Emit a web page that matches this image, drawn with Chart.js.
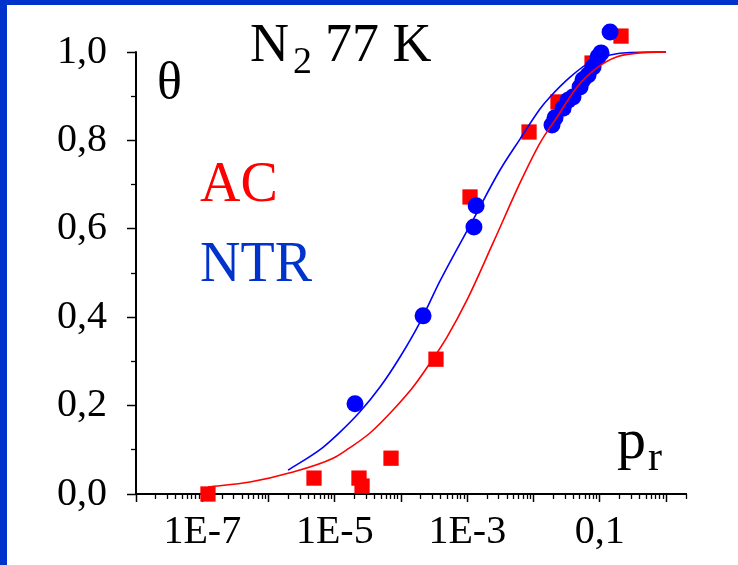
<!DOCTYPE html>
<html>
<head>
<meta charset="utf-8">
<script src="https://cdn.jsdelivr.net/npm/chart.js@4"></script>
<style>
  body { margin: 0; background: #fff; }
  #box { position: relative; width: 738px; height: 565px; }
  #box .edge { position: absolute; background: #0033cc; z-index: 2; }
</style>
</head>
<body>
<div id="box">
  <div class="edge" style="left:0;top:0;width:7px;height:565px"></div>
  <div class="edge" style="left:0;top:0;width:738px;height:5px"></div>
  <canvas id="iso" width="738" height="565"></canvas>
</div>
<script>
// N2 at 77 K : relative pressure vs coverage
// AC (red squares)
const acP = [1.22e-7, 4.86e-6, 2.32e-5, 2.58e-5, 7.06e-5, 3.37e-4, 1.10e-3, 8.55e-3, 0.0234, 0.0764, 0.209]
const acTheta = [0.0, 0.036, 0.036, 0.018, 0.081, 0.305, 0.672, 0.819, 0.887, 0.975, 1.036]
// NTR (blue circles)
const ntrP = [2.02e-5, 2.15e-4, 1.26e-3, 1.36e-3, 0.0190, 0.0211, 0.0279, 0.0332, 0.0394, 0.0504, 0.0558, 0.0665, 0.0791, 0.0942, 0.1045, 0.143]
const ntrTheta = [0.204, 0.403, 0.604, 0.652, 0.835, 0.851, 0.873, 0.891, 0.898, 0.921, 0.937, 0.948, 0.966, 0.989, 0.998, 1.045]
// fitted isotherms
const acFitP = [1.22e-7, 5.26e-7, 2.11e-6, 9.42e-6, 1.585e-5, 3.40e-5, 7.57e-5, 1.52e-4, 2.74e-4, 4.94e-4, 9.91e-4, 2.45e-3, 6.25e-3, 0.0125, 0.0227, 0.0454, 0.0908, 0.182, 0.406, 1]
const acFitTheta = [0.016, 0.027, 0.048, 0.081, 0.102, 0.138, 0.190, 0.242, 0.296, 0.355, 0.439, 0.568, 0.704, 0.794, 0.853, 0.921, 0.964, 0.989, 0.998, 1.0]
const ntrFitP = [1.97e-6, 6.43e-6, 1.20e-5, 2.40e-5, 4.82e-5, 9.66e-5, 1.94e-4, 3.88e-4, 1.22e-3, 3.12e-3, 6.25e-3, 0.0125, 0.0177, 0.0356, 0.0713, 0.143, 0.286, 1]
const ntrFitTheta = [0.054, 0.104, 0.140, 0.186, 0.242, 0.310, 0.389, 0.482, 0.620, 0.733, 0.803, 0.871, 0.898, 0.943, 0.977, 0.993, 0.999, 1.0]

// axes
const xMin = 1e-8, xMax = 2
const xMajor = [1e-8, 1e-7, 1e-6, 1e-5, 1e-4, 1e-3, 1e-2, 1e-1, 1]
const xLabels = ['', '1E-7', '', '1E-5', '', '1E-3', '', '0,1', '']
const yMajor = [0, 0.2, 0.4, 0.6, 0.8, 1.0]
const yLabels = ['0,0', '0,2', '0,4', '0,6', '0,8', '1,0']
const yMinor = [0.1, 0.3, 0.5, 0.7, 0.9]
// a bit of room above 1,0 so the top points are not cut off
const yTop = 1.06

const serif = '"Liberation Serif", "DejaVu Serif", serif'
const plotH = 442   // px from 0,0 to 1,0

function pts(xs, ys) {
  return xs.map((x, i) => ({x: x, y: ys[i]}))
}

// 2..9 in every decade, plus 2 at the end of the axis
const xMinor = []
xMajor.forEach(d => {
  for (let k = 2; k <= 9; k++) {
    if (d * k <= xMax) xMinor.push(d * k)
  }
})

// y axis line only from 0,0 to 1,0
const yAxisLine = {
  id: 'yAxisLine',
  beforeDatasetsDraw(chart) {
    const {x, y} = chart.scales
    const c = chart.ctx
    const px = Math.round(x.getPixelForValue(xMin))
    c.save()
    c.strokeStyle = '#000'
    c.lineWidth = 2
    c.beginPath()
    c.moveTo(px, y.getPixelForValue(0) + 1)
    c.lineTo(px, y.getPixelForValue(1) - 0.75)
    c.stroke()
    c.restore()
  }
}

const textPlugin = {
  id: 'texts',
  afterDraw(chart) {
    const c = chart.ctx
    c.save()
    c.textBaseline = 'alphabetic'
    c.textAlign = 'left'
    c.fillStyle = '#000'
    c.font = '54px ' + serif
    c.fillText('N', 250, 61)
    c.font = '38px ' + serif
    c.fillText('2', 293, 73)
    c.font = '54px ' + serif
    c.fillText('77 K', 325, 61)
    c.font = '52px ' + serif
    c.fillText('θ', 157, 98)
    c.font = '58px ' + serif
    c.fillText('p', 617, 458)
    c.font = '42px ' + serif
    c.fillText('r', 648, 470)
    c.font = '56px ' + serif
    c.fillStyle = '#ff0000'
    c.fillText('AC', 200, 201)
    c.fillStyle = '#0033cc'
    c.fillText('NTR', 200, 281)
    c.restore()
  }
}

const ctx = document.getElementById('iso')
const isoChart = new Chart(ctx, {
  type: 'scatter',
  data: {
    datasets: [
      {
        label: 'AC fit',
        data: pts(acFitP, acFitTheta),
        showLine: true,
        borderColor: '#ff0000',
        borderWidth: 1.6,
        pointRadius: 0,
        cubicInterpolationMode: 'monotone',
        clip: false
      },
      {
        label: 'NTR fit',
        data: pts(ntrFitP, ntrFitTheta),
        showLine: true,
        borderColor: '#0000ff',
        borderWidth: 1.6,
        pointRadius: 0,
        cubicInterpolationMode: 'monotone',
        clip: false
      },
      {
        label: 'NTR',
        data: pts(ntrP, ntrTheta),
        pointStyle: 'circle',
        pointRadius: 8.5,
        backgroundColor: '#0000ff',
        borderWidth: 0,
        clip: false
      },
      {
        label: 'AC',
        data: pts(acP, acTheta),
        pointStyle: 'rect',
        pointRadius: 10.8,
        backgroundColor: '#ff0000',
        borderWidth: 0,
        clip: false
      }
    ]
  },
  options: {
    responsive: false,
    animation: false,
    layout: {
      padding: {left: 0, top: 52 - plotH * (yTop - 1), right: 52, bottom: 0}
    },
    plugins: {
      legend: {display: false},
      tooltip: {enabled: false}
    },
    scales: {
      x: {
        type: 'logarithmic',
        position: 'bottom',
        min: xMin,
        max: xMax,
        afterBuildTicks: s => { s.ticks = xMajor.map(v => ({value: v})) },
        afterFit: s => { s.height = 71 },
        ticks: {
          autoSkip: false,
          maxRotation: 0,
          padding: 6,
          color: '#000',
          font: {family: serif, size: 40},
          callback: (v, i) => xLabels[i]
        },
        grid: {drawOnChartArea: false, tickLength: 8, tickWidth: 1.5, tickColor: '#000'},
        border: {color: '#000', width: 2}
      },
      xm: {
        type: 'logarithmic',
        position: {y: 0},
        min: xMin,
        max: xMax,
        afterBuildTicks: s => { s.ticks = xMinor.map(v => ({value: v})) },
        ticks: {display: false},
        grid: {drawOnChartArea: false, tickLength: 5, tickWidth: 1.3, tickColor: '#000'},
        border: {display: false}
      },
      y: {
        type: 'linear',
        position: 'left',
        min: 0,
        max: yTop,
        afterBuildTicks: s => { s.ticks = yMajor.map(v => ({value: v})) },
        afterFit: s => {
          s.width = 136
          // top label sits at 1,0, not at the top of the area
          s.paddingTop = 0
        },
        ticks: {
          padding: 20,
          color: '#000',
          font: {family: serif, size: 40},
          callback: (v, i) => yLabels[i]
        },
        grid: {drawOnChartArea: false, tickLength: 9, tickWidth: 1.5, tickColor: '#000'},
        border: {display: false}
      },
      ym: {
        type: 'linear',
        position: {x: xMin},
        min: 0,
        max: yTop,
        afterBuildTicks: s => { s.ticks = yMinor.map(v => ({value: v})) },
        ticks: {display: false},
        grid: {drawOnChartArea: false, tickLength: 5, tickWidth: 1.3, tickColor: '#000'},
        border: {display: false}
      }
    }
  },
  plugins: [yAxisLine, textPlugin]
})
</script>
</body>
</html>
